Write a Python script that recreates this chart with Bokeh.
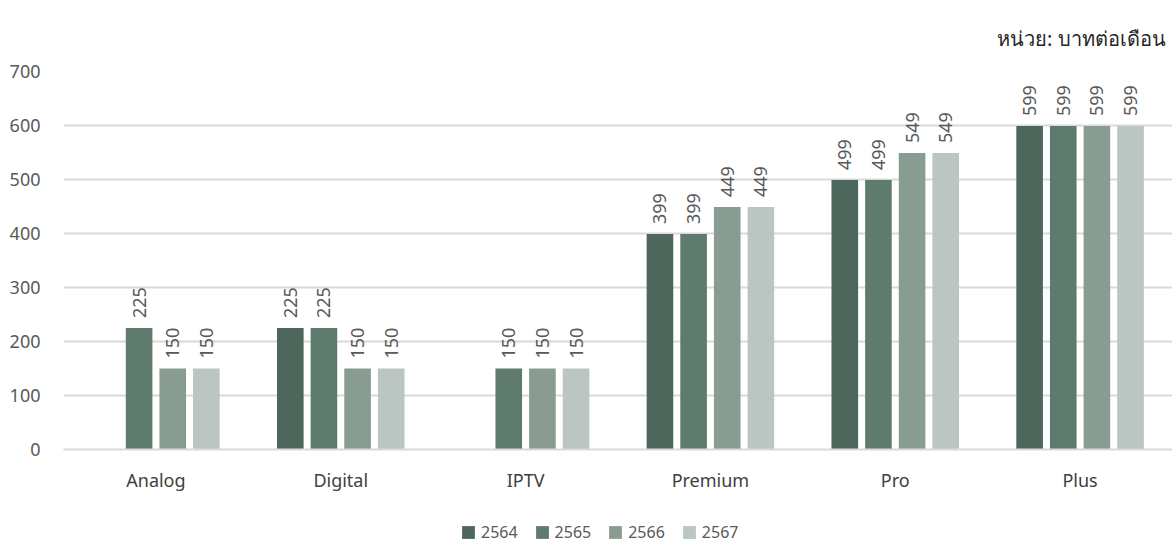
import math
from bokeh.plotting import figure
from bokeh.layouts import column
from bokeh.models import ColumnDataSource, FactorRange, Legend, LegendItem, Title
from bokeh.transform import dodge
from bokeh.core.properties import value
from bokeh.embed import file_html
from bokeh.resources import INLINE

categories = ["Analog", "Digital", "IPTV", "Premium", "Pro", "Plus"]
years = ["2564", "2565", "2566", "2567"]
v2564 = [math.nan, 225, math.nan, 399, 499, 599]
v2565 = [225, 225, 150, 399, 499, 599]
v2566 = [150, 150, 150, 449, 549, 599]
v2567 = [150, 150, 150, 449, 549, 599]
series = [v2564, v2565, v2566, v2567]
colors = ["#4e675c", "#5e7b6e", "#899c91", "#bbc5c1"]
unit_text = "หน่วย: บาทต่อเดือน"
y_ticks = [0, 100, 200, 300, 400, 500, 600, 700]

FONT = "Noto Sans"
W = 1172

p = figure(x_range=FactorRange(*categories), y_range=(0, 700),
           width=W, height=516, output_backend="svg", toolbar_location=None,
           min_border_left=63, min_border_right=0, min_border_top=71, min_border_bottom=67)
p.outline_line_color = None
p.background_fill_color = "white"

offsets = [-0.273, -0.091, 0.091, 0.273]
for yr, vals, col, off in zip(years, series, colors, offsets):
    src = ColumnDataSource(dict(cat=categories, val=vals))
    p.vbar(x=dodge("cat", off, range=p.x_range), top="val", width=0.144,
           source=src, fill_color=col, line_color=None)
    lab_cats = [c for c, v in zip(categories, vals) if not math.isnan(v)]
    lab_vals = [v for v in vals if not math.isnan(v)]
    lsrc = ColumnDataSource(dict(cat=lab_cats, val=lab_vals, txt=[str(int(v)) for v in lab_vals]))
    p.text(x=dodge("cat", off, range=p.x_range), y="val", text="txt", source=lsrc,
           angle=math.pi / 2, text_align="left", text_baseline="middle",
           y_offset=-10, text_font=value(FONT), text_font_size="18px", text_color="#595959")

p.yaxis.ticker = y_ticks
p.yaxis.axis_line_color = None
p.yaxis.major_tick_line_color = None
p.yaxis.minor_tick_line_color = None
p.yaxis.major_label_text_font = FONT
p.yaxis.major_label_text_font_size = "18px"
p.yaxis.major_label_text_color = "#595959"
p.yaxis.major_label_standoff = 17

p.xaxis.axis_line_color = "#d9d9d9"
p.xaxis.axis_line_width = 2
p.xaxis.major_tick_line_color = None
p.xaxis.minor_tick_line_color = None
p.xaxis.major_label_text_font = FONT
p.xaxis.major_label_text_font_size = "18px"
p.xaxis.major_label_text_font_style = "normal"
p.xaxis.major_label_text_color = "#404040"
p.xaxis.major_label_standoff = 12

p.xgrid.grid_line_color = None
p.ygrid.grid_line_color = "#d9d9d9"
p.ygrid.grid_line_width = 2
p.x_range.range_padding = 0.0
p.x_range.group_padding = 0.0

p.add_layout(Title(text=unit_text, align="right", text_font=FONT, text_font_size="20px",
                   text_color="#262626", text_font_style="normal", standoff=40, offset=7), "above")

# legend strip
p2 = figure(width=W, height=28, output_backend="svg", toolbar_location=None,
            x_axis_type=None, y_axis_type=None, min_border=0)
p2.outline_line_color = None
p2.grid.visible = False
items = []
for yr, col in zip(years, colors):
    r = p2.vbar(x=[0], top=[0], bottom=[0], width=0, fill_color=col, line_color=None)
    items.append(LegendItem(label=yr, renderers=[r]))
legend = Legend(items=items, orientation="horizontal", location=(397, 1),
                label_text_font=FONT, label_text_font_size="16px", label_text_color="#595959",
                glyph_width=16, glyph_height=16, spacing=16, label_standoff=5,
                border_line_color=None, background_fill_alpha=0, margin=0, padding=0)
p2.add_layout(legend)

layout = column(p, p2, spacing=0)
open("out.html", "w").write(file_html(layout, INLINE))
